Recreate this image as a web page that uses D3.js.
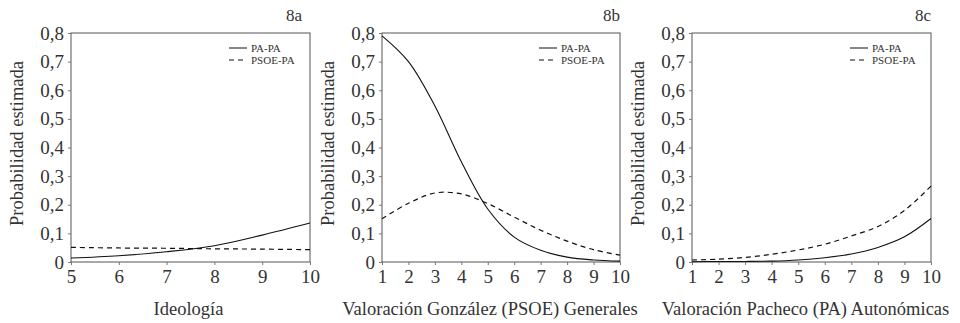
<!DOCTYPE html>
<html lang="es">
<head>
    <meta charset="UTF-8">
    <title>Probabilidad estimada</title>
    <style>
        body { margin: 0; background: #fff; }
        svg, svg text { font-family: "Liberation Serif", "Times New Roman", serif; }
        svg { display: block; }
    </style>
</head>
<body>
    <svg></svg>
    <script src="https://d3js.org/d3.v7.min.js"></script>
    <script>
      // ---- datos ----
      const panelIds = ["8a", "8b", "8c"];
      const xTitles = ["Ideología", "Valoración González (PSOE) Generales", "Valoración Pacheco (PA) Autonómicas"];
      const seriesNames = ["PA-PA", "PSOE-PA"];
      const yTicks = [0, 0.1, 0.2, 0.3, 0.4, 0.5, 0.6, 0.7, 0.8];

      const xA = [5, 6, 7, 8, 9, 10];
      const paA = [0.014, 0.022, 0.036, 0.057, 0.094, 0.136];
      const psoeA = [0.051, 0.049, 0.048, 0.046, 0.045, 0.043];

      const xB = [1, 2, 3, 4, 5, 6, 7, 8, 9, 10];
      const paB = [0.79, 0.70, 0.545, 0.35, 0.185, 0.087, 0.041, 0.017, 0.007, 0.003];
      const psoeB = [0.151, 0.205, 0.241, 0.238, 0.204, 0.157, 0.111, 0.073, 0.043, 0.024];

      const xC = [1, 2, 3, 4, 5, 6, 7, 8, 9, 10];
      const paC = [0.001, 0.002, 0.002, 0.003, 0.007, 0.015, 0.028, 0.051, 0.088, 0.152];
      const psoeC = [0.007, 0.010, 0.016, 0.027, 0.042, 0.062, 0.091, 0.124, 0.18, 0.265];

      const width = 960;
      const height = 323;

      const panels = [
        {id: panelIds[0], title: xTitles[0], xs: xA, pa: paA, psoe: psoeA, left: 71, right: 310, labelDx: -8, titleDx: -2},
        {id: panelIds[1], title: xTitles[1], xs: xB, pa: paB, psoe: psoeB, left: 382, right: 620, labelDx: 0, titleDx: -11},
        {id: panelIds[2], title: xTitles[2], xs: xC, pa: paC, psoe: psoeC, left: 692, right: 931, labelDx: 0, titleDx: -6}
      ];
      const plotTop = 33, plotBottom = 262;

      const svg = d3.select("svg").attr("width", width).attr("height", height);

      const yScale = d3.scaleLinear().domain([0, 0.8]).range([plotBottom, plotTop]);

      panels.forEach(p => {
        const xScale = d3.scaleLinear().domain(d3.extent(p.xs)).range([p.left, p.right]);
        const g = svg.append("g");

        // marco
        g.append("rect")
            .attr("x", p.left).attr("y", plotTop)
            .attr("width", p.right - p.left).attr("height", plotBottom - plotTop)
            .attr("fill", "none").attr("stroke", "#555").attr("stroke-width", 1);

        const yAxis = g.append("g")
            .attr("transform", `translate(${p.left},0)`)
            .call(d3.axisLeft(yScale).tickValues(yTicks).tickSize(3).tickPadding(4)
              .tickFormat(d => d === 0 ? "0" : d3.format(".1f")(d).replace(".", ",")))
            .attr("font-family", null).attr("font-size", 19);
        yAxis.select(".domain").remove();
        yAxis.selectAll("line").attr("stroke", "#777");
        yAxis.selectAll("text").attr("fill", "#333");

        const xAxis = g.append("g")
            .attr("transform", `translate(0,${plotBottom})`)
            .call(d3.axisBottom(xScale).tickValues(p.xs).tickSize(3).tickPadding(5).tickFormat(d3.format("d")))
            .attr("font-family", null).attr("font-size", 19);
        xAxis.select(".domain").remove();
        xAxis.selectAll("line").attr("stroke", "#777");
        xAxis.selectAll("text").attr("fill", "#333");

        const line = d3.line()
            .x((d, i) => xScale(p.xs[i]))
            .y(d => yScale(d))
            .curve(d3.curveCatmullRom.alpha(0.5));

        g.append("path").datum(p.pa)
            .attr("d", line).attr("fill", "none")
            .attr("stroke", "#111").attr("stroke-width", 1.1);
        g.append("path").datum(p.psoe)
            .attr("d", line).attr("fill", "none")
            .attr("stroke", "#111").attr("stroke-width", 1.2)
            .attr("stroke-dasharray", "5,4");

        // leyenda
        const lx = p.right - 81;
        const leg = g.append("g").attr("font-size", 11).attr("fill", "#333");
        seriesNames.forEach((name, i) => {
          const ly = 48 + i * 12;
          leg.append("line")
              .attr("x1", lx).attr("x2", lx + 18)
              .attr("y1", ly).attr("y2", ly)
              .attr("stroke", "#111").attr("stroke-width", 1)
              .attr("stroke-dasharray", i === 1 ? "5,4" : null);
          leg.append("text").attr("x", lx + 22).attr("y", ly + 4).text(name);
        });

        g.append("text")
            .attr("x", p.right + p.labelDx).attr("y", 21)
            .attr("text-anchor", "end").attr("font-size", 17).attr("fill", "#333")
            .text(p.id);

        g.append("text")
            .attr("x", (p.left + p.right) / 2 + p.titleDx).attr("y", 315)
            .attr("text-anchor", "middle").attr("font-size", 18.5).attr("fill", "#333")
            .text(p.title);

        g.append("text")
            .attr("transform", `translate(${p.left - 48},${(plotTop + plotBottom) / 2 - 4}) rotate(-90)`)
            .attr("text-anchor", "middle").attr("font-size", 18.5).attr("fill", "#333")
            .text("Probabilidad estimada");
      });
    </script>
</body>
</html>
